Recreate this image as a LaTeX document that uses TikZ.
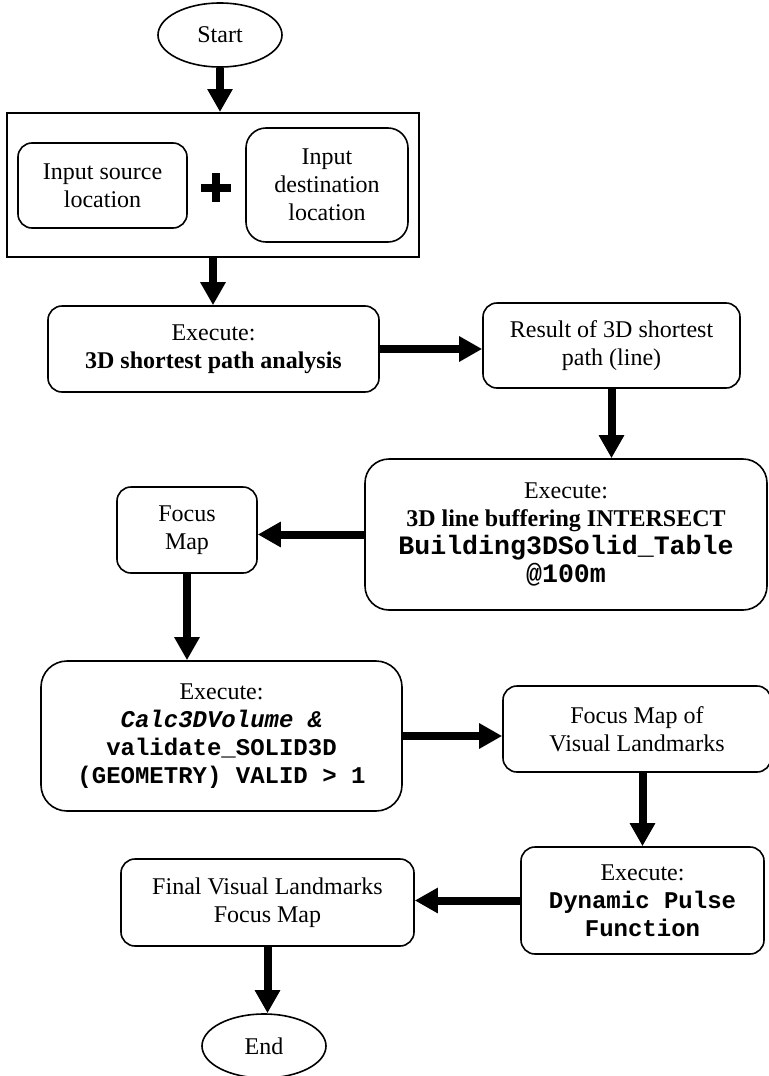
\documentclass[tikz,border=0pt]{standalone}
\usepackage{fontspec}
\setmainfont{Liberation Serif}
\setmonofont{Liberation Mono}
\usetikzlibrary{shapes.geometric,arrows.meta}

\begin{document}
\begin{tikzpicture}[x=0.5pt,y=-0.5pt,
  every node/.style={font=\fontsize{12}{14}\selectfont, align=center, inner sep=2pt},
  term/.style={draw, line width=0.8pt, ellipse, minimum width=62pt, minimum height=32pt},
  proc/.style={draw, line width=0.8pt, rounded corners=7pt},
  flow/.style={line width=4pt, -{Triangle[length=11.5pt,width=12pt]}}]
\useasboundingbox (0,0) rectangle (769,1076);

\node[term] (start) at (220,35) {Start};
\node[draw, line width=1pt, minimum width=206pt, minimum height=72pt] (inputs) at (213,185) {};
\node[proc, minimum width=84.5pt, minimum height=42.5pt] (src) at (102.5,185.5) {Input source\\location};
\node[proc, rounded corners=10pt, minimum width=81pt, minimum height=57pt] (dst) at (327,185) {Input\\destination\\location};
\draw[line width=4pt] (201,187.5) -- (231,187.5) (216,173) -- (216,202);

\node[proc, minimum width=165.5pt, minimum height=43pt] (sp) at (213.5,349) {Execute:\\\textbf{3D shortest path analysis}};
\node[proc, minimum width=128.5pt, minimum height=42.5pt] (res) at (611.5,345.5) {Result of 3D shortest\\path (line)};
\node[proc, rounded corners=12pt, minimum width=201pt, minimum height=75.5pt] (buf) at (566,534.5)
  {Execute:\\\textbf{3D line buffering INTERSECT}\\
   {\fontsize{13.3}{15}\selectfont\ttfamily\bfseries Building3DSolid\_Table}\\
   {\fontsize{13.3}{15}\selectfont\ttfamily\bfseries @100m}};
\node[proc, minimum width=70pt, minimum height=43pt] (fm) at (187,530) {Focus\\Map};
\node[proc, rounded corners=13pt, minimum width=180.5pt, minimum height=75pt] (calc) at (221.5,736)
  {Execute:\\{\ttfamily\bfseries\itshape Calc3DVolume \&}\\
   {\ttfamily\bfseries validate\_SOLID3D}\\
   {\ttfamily\bfseries (GEOMETRY) VALID > 1}};
\node[proc, minimum width=134pt, minimum height=43pt] (fmvl) at (637,729) {Focus Map of\\Visual Landmarks};
\node[proc, minimum width=121.5pt, minimum height=53.5pt] (dyn) at (642.5,900.5)
  {Execute:\\{\ttfamily\bfseries Dynamic Pulse}\\{\ttfamily\bfseries Function}};
\node[proc, minimum width=146.5pt, minimum height=43.5pt] (fin) at (267.5,902.5) {Final Visual Landmarks\\Focus Map};
\node[term] (end) at (264,1046) {End};

\draw[flow] (start) -- (start |- inputs.north);
\draw[flow] (inputs.south) -- (inputs.south |- sp.north);
\draw[flow] (sp.east) -- (sp.east -| res.west);
\draw[flow] (res.south) -- (res.south |- buf.north);
\draw[flow] (buf.west) -- (buf.west -| fm.east);
\draw[flow] (fm.south) -- (fm.south |- calc.north);
\draw[flow] (calc.east) -- (calc.east -| fmvl.west);
\draw[flow] (dyn.north |- fmvl.south) -- (dyn.north);
\draw[flow] (dyn.west) -- (dyn.west -| fin.east);
\draw[flow] (fin.south) -- (fin.south |- end.north);
\end{tikzpicture}
\end{document}
